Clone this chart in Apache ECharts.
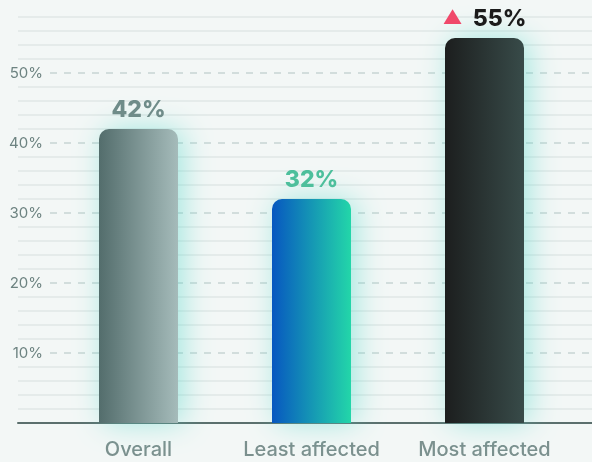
<!DOCTYPE html>
<html>
<head>
<meta charset="utf-8">
<script src="https://cdn.jsdelivr.net/npm/echarts@6/dist/echarts.min.js"></script>
<style>
  html, body { margin: 0; padding: 0; background: #f3f7f6; }
  #chart { width: 592px; height: 462px; }
</style>
</head>
<body>
<div id="chart"></div>
<script>
  // 데이터
  const categories = ['Overall', 'Least affected', 'Most affected'];
  const values = [42, 32, 55];
  const axisMax = 60;

  // 막대별 그라데이션 / 라벨 색
  const barColors = [
    ['#536d6c', '#a5bbba'],
    ['#0757c0', '#23d6a9'],
    ['#1c1e1e', '#384b49']
  ];
  const labelColors = ['#6f8c89', '#4dbf9c', '#1b1b1b'];

  const fadeLine = 'rgba(0,0,0,0)';
  const solid = '#e1e7e6';
  const dashed = '#c8d5d4';
  const font = 'Inter';

  let chartDiv = document.getElementById('chart');
  let myChart = echarts.init(chartDiv, null, { renderer: 'canvas' });

  let barData = values.map((v, i) => ({
    value: v,
    itemStyle: {
      color: new echarts.graphic.LinearGradient(0, 0, 1, 0, [
        { offset: 0, color: barColors[i][0] },
        { offset: 1, color: barColors[i][1] }
      ])
    },
    label: {
      formatter: i === 2 ? '{tri|▲}  {v|' + v + '%}' : v + '%',
      color: labelColors[i]
    }
  }));

  let option = {
    backgroundColor: '#f3f7f6',
    animation: false,
    grid: [
      { left: 18, right: 0, top: 3, bottom: 39 },   // 얇은 실선
      { left: 50, right: 0, top: 3, bottom: 39 },   // 점선 + 라벨
      { left: 52, right: 21, top: 3, bottom: 39 }   // 막대
    ],
    xAxis: [
      {
        gridIndex: 0, type: 'category', data: categories,
        axisLine: { show: true, lineStyle: { color: '#5b6f6d', width: 2 } },
        axisTick: { show: false }, axisLabel: { show: false }
      },
      { gridIndex: 1, type: 'category', data: categories, show: false },
      {
        gridIndex: 2, type: 'category', data: categories,
        axisLine: { show: false }, axisTick: { show: false },
        axisLabel: {
          interval: 0, hideOverlap: false,
          margin: 17, fontSize: 20, color: '#7b908e',
          fontFamily: font, fontWeight: 500
        }
      }
    ],
    yAxis: [
      {
        gridIndex: 0, type: 'value', min: 0, max: axisMax, interval: 2,
        axisLabel: { show: false }, axisLine: { show: false }, axisTick: { show: false },
        splitLine: { lineStyle: { color: [fadeLine, solid, solid, solid, solid], width: 1.5 } }
      },
      {
        gridIndex: 1, type: 'value', min: 0, max: axisMax, interval: 10,
        axisLine: { show: false }, axisTick: { show: false },
        axisLabel: {
          margin: 7, fontSize: 15, color: '#6d8381', fontFamily: font,
          formatter: v => (v === 0 || v === axisMax) ? '' : v + '%'
        },
        splitLine: {
          lineStyle: {
            type: [7, 7], width: 1.5,
            color: [fadeLine, dashed, dashed, dashed, dashed, dashed, fadeLine]
          }
        }
      },
      { gridIndex: 2, type: 'value', min: 0, max: axisMax, show: false }
    ],
    series: [
      {
        type: 'bar',
        xAxisIndex: 2, yAxisIndex: 2,
        barWidth: 79,
        data: barData,
        itemStyle: {
          borderRadius: [10, 10, 0, 0],
          shadowColor: 'rgba(80, 215, 200, 0.5)',
          shadowBlur: 30,
          shadowOffsetX: 5
        },
        label: {
          show: true,
          position: 'top',
          distance: 7,
          fontSize: 23,
          fontWeight: 800,
          fontFamily: font,
          rich: {
            tri: { color: '#f0486a', fontSize: 19, padding: [0, 0, 2, 0] },
            v: { color: '#1b1b1b', fontSize: 23, fontWeight: 800, fontFamily: font }
          }
        }
      }
    ]
  };

  if (option && typeof option === 'object') {
    myChart.setOption(option);
  }
</script>
</body>
</html>
